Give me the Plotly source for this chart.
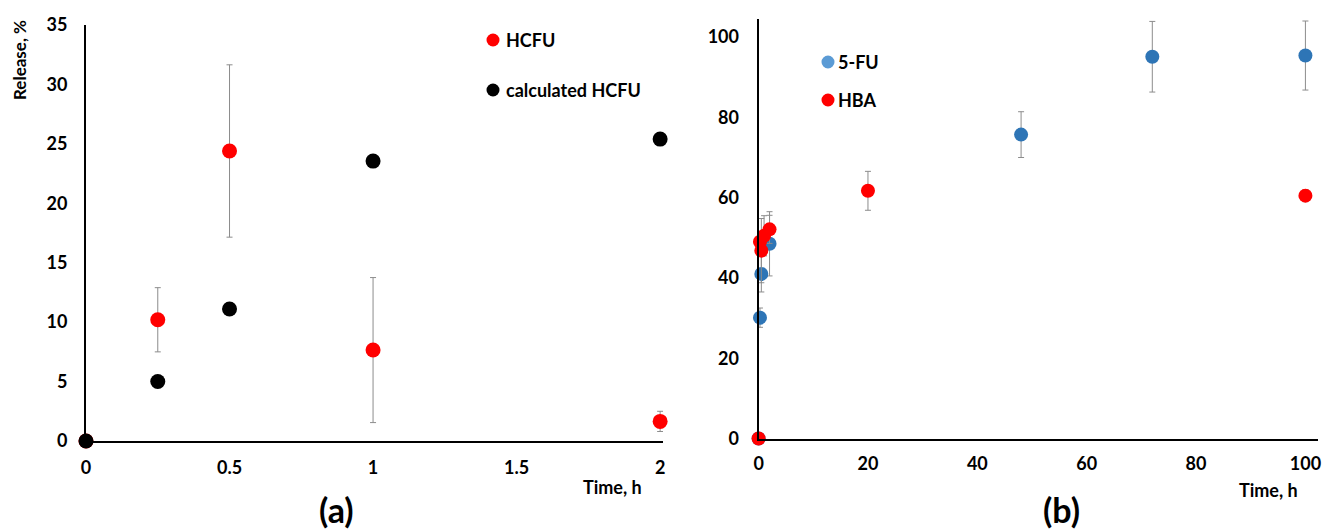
import plotly.graph_objects as go

# ---- Panel (a) data ----
time_a = [0, 0.25, 0.5, 1, 2]
hcfu = [0, 10.2, 24.4, 7.65, 1.65]
hcfu_err = [0, 2.7, 7.25, 6.1, 0.85]
calc_hcfu = [0, 5.0, 11.1, 23.55, 25.4]

# ---- Panel (b) data ----
time_fu = [0, 0.25, 0.5, 2, 48, 72, 100]
fu = [0, 30.1, 41.0, 48.5, 75.7, 95.1, 95.4]
fu_err = [0, 2.4, 4.5, 8.0, 5.7, 8.8, 8.6]
time_hba = [0, 0.25, 0.5, 1, 2, 20, 100]
hba = [0, 49.0, 46.8, 50.5, 52.1, 61.7, 60.5]
hba_err = [0, 0, 8.0, 5.0, 3.5, 4.85, 1.5]

# legend entries: (label, colour)
legend_a = [("HCFU", "#ff0000"), ("calculated HCFU", "#000000")]
legend_b = [("5-FU", "#5b9bd5"), ("HBA", "#ff0000")]

W, H = 1322, 531
def px(x):
    return x / W
def py(y):
    return 1 - y / H

FONT = "Lato"
tickfont = dict(family=FONT, size=18, color="black", weight="bold")
ERR = dict(type="data", color="#8c8c8c", thickness=1, width=3)

fig = go.Figure()

fig.add_trace(go.Scatter(
    x=time_a, y=hcfu, mode="markers", name="HCFU",
    marker=dict(color="#ff0000", size=15),
    error_y=dict(array=hcfu_err, **ERR),
    xaxis="x", yaxis="y", cliponaxis=False, showlegend=False,
))
fig.add_trace(go.Scatter(
    x=time_a, y=calc_hcfu, mode="markers", name="calculated HCFU",
    marker=dict(color="#000000", size=15),
    xaxis="x", yaxis="y", cliponaxis=False, showlegend=False,
))
fig.add_trace(go.Scatter(
    x=time_fu, y=fu, mode="markers", name="5-FU",
    marker=dict(color="#2e75b6", size=14),
    error_y=dict(array=fu_err, **ERR),
    xaxis="x2", yaxis="y2", cliponaxis=False, showlegend=False,
))
fig.add_trace(go.Scatter(
    x=time_hba, y=hba, mode="markers", name="HBA",
    marker=dict(color="#ff0000", size=14),
    error_y=dict(array=hba_err, **ERR),
    xaxis="x2", yaxis="y2", cliponaxis=False, showlegend=False,
))

axis_common = dict(showgrid=False, zeroline=False, showline=True, automargin=False,
                   linecolor="black", ticks="", tickfont=tickfont, linewidth=2)

shapes = []
annotations = []
LEGFONT = dict(family=FONT, size=18, color="black", weight="bold")

def add_legend(items, mx, tx, ys):
    for (label, col), yy in zip(items, ys):
        shapes.append(dict(type="circle", xref="paper", yref="paper",
                           xsizemode="pixel", ysizemode="pixel",
                           xanchor=px(mx), yanchor=py(yy),
                           x0=-6.5, x1=6.5, y0=-6.5, y1=6.5,
                           fillcolor=col, line=dict(width=0)))
        annotations.append(dict(text=label, x=px(tx), y=py(yy), xref="paper", yref="paper",
                                xanchor="left", yanchor="middle", showarrow=False,
                                font=LEGFONT))

add_legend(legend_a, 493, 504, [40, 90])
add_legend(legend_b, 828, 836, [62, 100])

def label(text, x, y, size, angle=0):
    return dict(text=text, x=px(x), y=py(y), xref="paper", yref="paper",
                xanchor="center", yanchor="middle", textangle=angle, showarrow=False,
                font=dict(family=FONT, size=size, color="black", weight="bold"))

annotations += [
    label("Release, %", 20, 60, 17, -90),
    label("Time, h", 612, 487, 18),
    label("Time, h", 1268, 490, 18),
    label("(a)", 336, 509, 34),
    label("(b)", 1061, 509, 34),
]

fig.update_layout(
    width=W, height=H,
    margin=dict(l=0, r=0, t=0, b=0, autoexpand=False),
    paper_bgcolor="white", plot_bgcolor="white",
    showlegend=False,
    xaxis=dict(domain=[px(86), px(663)], range=[0, 2.01],
               tickvals=[0, 0.5, 1, 1.5, 2], ticktext=["0", "0.5", "1", "1.5", "2"],
               anchor="y", ticklabelstandoff=9, **axis_common),
    yaxis=dict(domain=[py(441), py(25)], range=[0, 35],
               tickvals=[0, 5, 10, 15, 20, 25, 30, 35],
               anchor="x", ticklabelstandoff=13, **axis_common),
    xaxis2=dict(domain=[px(758.6), px(1318)], range=[0, 102.3],
                tickvals=[0, 20, 40, 60, 80, 100],
                anchor="y2", ticklabelstandoff=8, **axis_common),
    yaxis2=dict(domain=[py(438.5), py(18.6)], range=[0, 104.6],
                tickvals=[0, 20, 40, 60, 80, 100],
                anchor="x2", ticklabelstandoff=14, **axis_common),
    shapes=shapes,
    annotations=annotations,
)

fig.write_html(
    "out.html",
    config={"displayModeBar": False},
    post_script="document.body.style.margin='0';document.body.style.overflow='hidden';",
)
